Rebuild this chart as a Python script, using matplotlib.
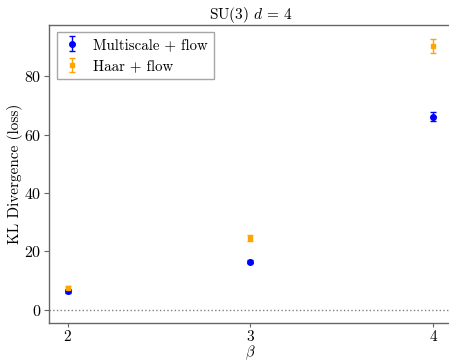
import matplotlib
matplotlib.use("Agg")
import matplotlib.pyplot as plt

plt.rcParams['font.family'] = ['cmr10']
plt.rcParams['mathtext.fontset'] = 'cm'
plt.rcParams['axes.formatter.use_mathtext'] = True
plt.rcParams['axes.unicode_minus'] = False

beta = [2, 3, 4]
multiscale = [6.5, 16.5, 66.2]
multiscale_err = [0.6, 0.6, 1.5]
haar = [7.5, 24.5, 90.5]
haar_err = [0.6, 1.0, 2.5]

W, H = 449, 361
fig = plt.figure(figsize=(W / 100, H / 100), dpi=100)
left, right, top, bottom = 49.3, 451.5, 25.0, 323.3
ax = fig.add_axes([left / W, 1 - bottom / H, (right - left) / W, (bottom - top) / H])

ax.errorbar(beta, multiscale, yerr=multiscale_err, fmt='o', color='blue',
            markersize=4, capsize=2, elinewidth=1, capthick=1, label='Multiscale + flow')
ax.errorbar(beta, haar, yerr=haar_err, fmt='s', color='orange',
            markersize=3.2, capsize=2, elinewidth=1, capthick=1, label='Haar + flow')
ax.axhline(0, color='gray', linestyle=':', linewidth=1)

ax.set_xticks(beta)
ax.set_xlim(1.9, 4.1)
ax.set_ylim(-4.65, 97.65)
ax.set_yticks([0, 20, 40, 60, 80])
for sp in ax.spines.values():
    sp.set_color('0.4')
    sp.set_linewidth(1.0)
ax.tick_params(labelsize=11.5, color='0.4', length=3.5, pad=2)
ax.tick_params(axis='x', labelsize=11, length=3, pad=1)
ax.set_xlabel(r'$\beta$', fontsize=10.5, labelpad=0)
ax.set_ylabel('KL Divergence (loss)', fontsize=11, labelpad=1)
ax.set_title(r'SU(3) $d\,=\,4$', fontsize=11, pad=4)
leg = ax.legend(loc='upper left', fontsize=10.7, fancybox=False, edgecolor='0.65',
                framealpha=1, handlelength=1.25, borderaxespad=0.5)
leg.get_frame().set_linewidth(1.0)

fig.savefig('out.png', dpi=100)
